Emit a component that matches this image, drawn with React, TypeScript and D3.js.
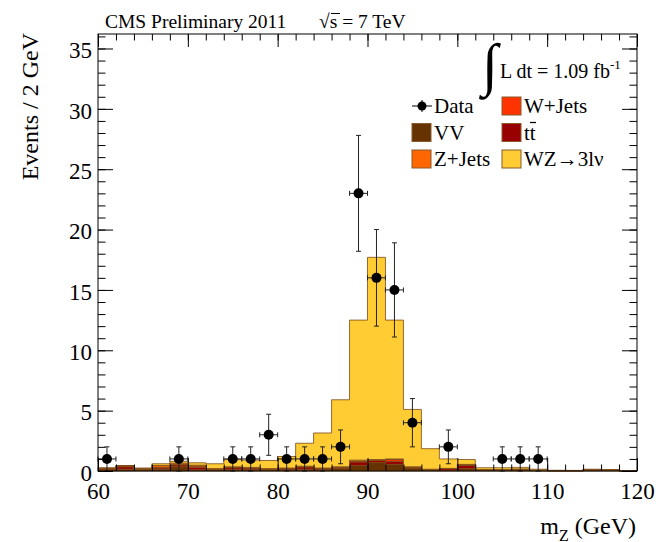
import React, { useEffect, useRef } from "react";
import * as d3 from "d3";

// bin centres (2 GeV bins from 60 to 120)
const binCentres = [61, 63, 65, 67, 69, 71, 73, 75, 77, 79, 81, 83, 85, 87, 89, 91, 93, 95, 97, 99, 101, 103, 105, 107, 109, 111, 113, 115, 117, 119];

// stacked MC components, bottom to top
const vv = [0.1, 0.15, 0.1, 0.15, 0.35, 0.1, 0.1, 0.15, 0.1, 0.1, 0.1, 0.15, 0.15, 0.2, 0.45, 0.7, 0.55, 0.25, 0.1, 0.05, 0.2, 0.05, 0.05, 0.1, 0.03, 0.02, 0.02, 0.05, 0.05, 0.01];
const ttbar = [0.1, 0.2, 0.05, 0.1, 0.15, 0.2, 0.05, 0.15, 0.15, 0.05, 0.1, 0.2, 0.05, 0.1, 0.3, 0.2, 0.25, 0.05, 0.03, 0.15, 0.25, 0.05, 0.05, 0.05, 0.02, 0.01, 0.01, 0.05, 0.03, 0.01];
const wjets = [0, 0.05, 0, 0.05, 0.05, 0.1, 0, 0, 0, 0, 0, 0, 0, 0, 0.05, 0, 0.15, 0, 0, 0, 0.05, 0, 0, 0, 0, 0, 0, 0, 0, 0];
const zjets = [0.02, 0.05, 0.05, 0.15, 0.1, 0.08, 0.05, 0.05, 0.05, 0.05, 0.05, 0.05, 0.05, 0.05, 0.1, 0.05, 0.05, 0.05, 0.02, 0.02, 0.05, 0.02, 0.02, 0.02, 0.02, 0.01, 0.01, 0.01, 0.01, 0];
const wz = [0.05, 0, 0.05, 0.15, 0.15, 0.2, 0.4, 0.6, 0.6, 0.67, 0.95, 1.9, 2.9, 5.55, 11.6, 16.75, 11.5, 4.75, 1.7, 0.78, 0.4, 0.15, 0.15, 0.13, 0.08, 0.02, 0.01, 0.04, 0.03, 0.01];

// observed data
const dataX = [61, 69, 75, 77, 79, 81, 83, 85, 87, 89, 91, 93, 95, 99, 105, 107, 109];
const dataY = [1, 1, 1, 1, 3, 1, 1, 1, 2, 23, 16, 15, 4, 2, 1, 1, 1];
const dataErr = [1, 1, 1, 1, 1.7, 1, 1, 1, 1.4, 4.8, 4, 3.9, 2, 1.4, 1, 1, 1];

const xTicks = [60, 70, 80, 90, 100, 110, 120];
const yTicks = [0, 5, 10, 15, 20, 25, 30, 35];

const layers = [
  { key: "vv", values: vv, color: "#663300", label: "VV" },
  { key: "tt", values: ttbar, color: "#990000", label: "tt" },
  { key: "wjets", values: wjets, color: "#ff3300", label: "W+Jets" },
  { key: "zjets", values: zjets, color: "#ff6600", label: "Z+Jets" },
  { key: "wz", values: wz, color: "#ffcc33", label: "WZ\u21923l\u03bd" },
];

const FONT = "'Liberation Serif', 'DejaVu Serif', serif";

function Chart({ width, height }) {
  const ref = useRef(null);

  useEffect(() => {
    const svg = d3.select(ref.current);
    const left = 98, right = 637, top = 34, bottom = 471;

    const x = d3.scaleLinear().domain([60, 120]).range([left, right]);
    const y = d3.scaleLinear().domain([0, 36.2]).range([bottom, top]);

    // stack table
    const table = binCentres.map((c, i) => {
      const row = { c };
      layers.forEach(l => (row[l.key] = l.values[i]));
      return row;
    });
    const stack = d3.stack().keys(layers.map(l => l.key))(table);

    const area = d3
      .area()
      .curve(d3.curveStepAfter)
      .x(d => x(d.edge))
      .y0(d => y(d.lo))
      .y1(d => y(d.hi));

    const g = svg.append("g");
    stack.forEach((s, li) => {
      const pts = s.map((d, i) => ({ edge: binCentres[i] - 1, lo: d[0], hi: d[1] }));
      const last = pts[pts.length - 1];
      pts.push({ ...last, edge: binCentres[binCentres.length - 1] + 1 });
      g.append("path")
        .attr("d", area(pts))
        .attr("fill", layers[li].color)
        .attr("stroke", "#7a4a1a")
        .attr("stroke-width", 0.8);
    });

    // data points
    const pts = svg.append("g").attr("stroke", "#222").attr("stroke-width", 1);
    dataX.forEach((dx, i) => {
      const cx = x(dx), cy = y(dataY[i]);
      const yl = y(Math.max(0, dataY[i] - dataErr[i])), yh = y(dataY[i] + dataErr[i]);
      const xl = x(dx - 1), xh = x(dx + 1);
      pts.append("line").attr("x1", cx).attr("x2", cx).attr("y1", yl).attr("y2", yh);
      pts.append("line").attr("x1", cx - 2.5).attr("x2", cx + 2.5).attr("y1", yl).attr("y2", yl);
      pts.append("line").attr("x1", cx - 2.5).attr("x2", cx + 2.5).attr("y1", yh).attr("y2", yh);
      pts.append("line").attr("x1", xl).attr("x2", xh).attr("y1", cy).attr("y2", cy);
      pts.append("line").attr("x1", xl).attr("x2", xl).attr("y1", cy - 2.5).attr("y2", cy + 2.5);
      pts.append("line").attr("x1", xh).attr("x2", xh).attr("y1", cy - 2.5).attr("y2", cy + 2.5);
      pts.append("circle").attr("cx", cx).attr("cy", cy).attr("r", 5).attr("fill", "#000").attr("stroke", "none");
    });

    // axes
    const style = a =>
      a
        .call(s => s.select(".domain").remove())
        .call(s => s.selectAll(".tick line").attr("stroke", "#000"))
        .call(s => s.selectAll("text").attr("font-family", FONT).attr("font-size", 23).attr("fill", "#000"));

    const minorX = d3.range(60, 121, 2);
    const minorY = d3.range(0, 37, 1);

    svg.append("g").attr("transform", `translate(0,${bottom})`)
      .call(d3.axisBottom(x).tickValues(minorX).tickSize(-6.5).tickFormat(() => "")).call(style);
    svg.append("g").attr("transform", `translate(0,${bottom})`)
      .call(d3.axisBottom(x).tickValues(xTicks).tickSize(-13).tickPadding(12).tickFormat(d3.format("d"))).call(style);
    svg.append("g").attr("transform", `translate(0,${top})`)
      .call(d3.axisTop(x).tickValues(minorX).tickSize(-6.5).tickFormat(() => "")).call(style);
    svg.append("g").attr("transform", `translate(0,${top})`)
      .call(d3.axisTop(x).tickValues(xTicks).tickSize(-13).tickFormat(() => "")).call(style);

    svg.append("g").attr("transform", `translate(${left},0)`)
      .call(d3.axisLeft(y).tickValues(minorY).tickSize(-7.5).tickFormat(() => "")).call(style);
    svg.append("g").attr("transform", `translate(${left},0)`)
      .call(d3.axisLeft(y).tickValues(yTicks).tickSize(-15).tickPadding(6).tickFormat(d3.format("d"))).call(style)
      .call(s => s.selectAll("text").attr("dy", "0.4em"));
    svg.append("g").attr("transform", `translate(${right},0)`)
      .call(d3.axisRight(y).tickValues(minorY).tickSize(-7.5).tickFormat(() => "")).call(style);
    svg.append("g").attr("transform", `translate(${right},0)`)
      .call(d3.axisRight(y).tickValues(yTicks).tickSize(-15).tickFormat(() => "")).call(style);

    // frame
    svg.append("rect")
      .attr("x", left).attr("y", top).attr("width", right - left).attr("height", bottom - top)
      .attr("fill", "none").attr("stroke", "#000").attr("stroke-width", 1);

    // titles
    const txt = svg.append("g").attr("font-family", FONT).attr("fill", "#000");
    txt.append("text").attr("x", 105).attr("y", 28).attr("font-size", 19.5).text("CMS Preliminary 2011");
    const rs = txt.append("text").attr("x", 319).attr("y", 28).attr("font-size", 19.5);
    rs.append("tspan").text("\u221a");
    rs.append("tspan").text("s = 7 TeV");
    txt.append("line").attr("x1", 331).attr("x2", 340).attr("y1", 13.5).attr("y2", 13.5).attr("stroke", "#000").attr("stroke-width", 1);

    txt.append("text")
      .attr("transform", "translate(38,33) rotate(-90)")
      .attr("text-anchor", "end").attr("font-size", 24).text("Events / 2 GeV");

    const xt = txt.append("text").attr("x", 636).attr("y", 534).attr("text-anchor", "end").attr("font-size", 24);
    xt.append("tspan").text("m");
    xt.append("tspan").attr("font-size", 16).attr("dy", 7).text("Z");
    xt.append("tspan").attr("dy", -7).text(" (GeV)");

    // luminosity
    txt.append("text").attr("x", 482).attr("y", 84).attr("font-size", 58).text("\u222b");
    const lum = txt.append("text").attr("x", 500).attr("y", 78).attr("font-size", 20);
    lum.append("tspan").text("L dt = 1.09 fb");
    lum.append("tspan").attr("font-size", 13).attr("dy", -9).text("-1");

    // legend
    const leg = svg.append("g").attr("font-family", FONT).attr("font-size", 21);
    const entries = [
      { type: "data", label: "Data", col: 0, row: 0 },
      { type: "box", layer: layers[2], col: 1, row: 0 },
      { type: "box", layer: layers[0], col: 0, row: 1 },
      { type: "box", layer: layers[1], col: 1, row: 1 },
      { type: "box", layer: layers[3], col: 0, row: 2 },
      { type: "box", layer: layers[4], col: 1, row: 2 },
    ];
    entries.forEach(e => {
      const bx = 412 + e.col * 90, cy = 106 + e.row * 26.5;
      if (e.type === "data") {
        leg.append("line").attr("x1", bx).attr("x2", bx + 20).attr("y1", cy).attr("y2", cy).attr("stroke", "#000");
        leg.append("line").attr("x1", bx + 10).attr("x2", bx + 10).attr("y1", cy - 6).attr("y2", cy + 6).attr("stroke", "#000");
        leg.append("circle").attr("cx", bx + 10).attr("cy", cy).attr("r", 4.5).attr("fill", "#000");
      } else {
        leg.append("rect").attr("x", bx).attr("y", cy - 9).attr("width", 19).attr("height", 18)
          .attr("fill", e.layer.color).attr("stroke", "#8a5a2a").attr("stroke-width", 1);
      }
      leg.append("text").attr("x", bx + 22).attr("y", cy + 7).text(e.type === "data" ? e.label : e.layer.label);
      if (e.type !== "data" && e.layer.key === "tt") {
        leg.append("line").attr("x1", bx + 28).attr("x2", bx + 34).attr("y1", cy - 10).attr("y2", cy - 10)
          .attr("stroke", "#000").attr("stroke-width", 1.3);
      }
    });

    return () => {
      svg.html("");
    };
  }, [width, height]);

  return (
    <svg ref={ref} width={width} height={height}
      style={{ position: "absolute", left: 0, top: 0, background: "#fff" }} />
  );
}

export default function App() {
  return <Chart width={659} height={542} />;
}
